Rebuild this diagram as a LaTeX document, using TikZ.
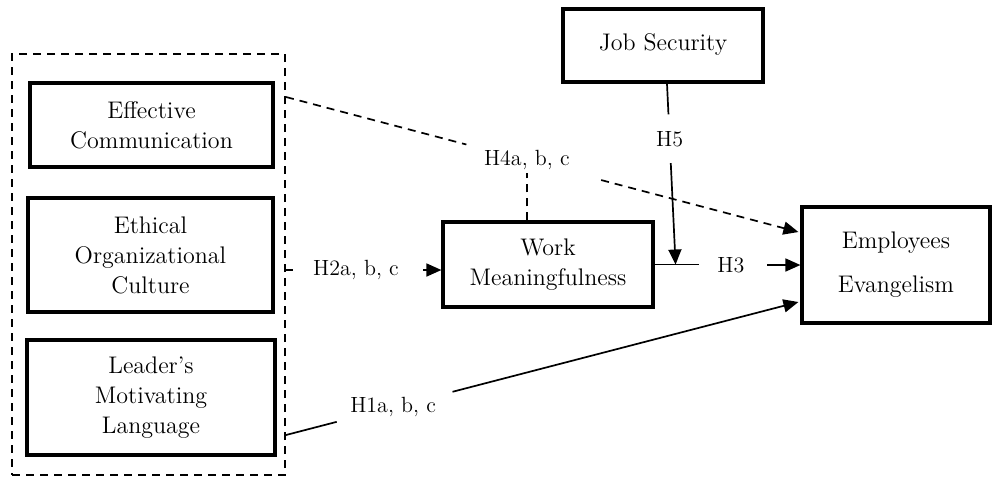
\documentclass[tikz,border=0pt]{standalone}
\usetikzlibrary{arrows.meta,calc}
\begin{document}
\begin{tikzpicture}[x=0.5pt,y=-0.5pt,
  box/.style={draw,line width=1.6pt,align=center,font=\fontsize{12}{15}\selectfont,inner sep=0pt},
  grpbox/.style={draw,line width=1pt,dash pattern=on 4pt off 3pt},
  conn/.style={line width=0.85pt},
  dconn/.style={line width=0.85pt,dash pattern=on 4pt off 3pt},
  arr/.style={-{Triangle[length=7.5pt,width=6.5pt]}},
  lab/.style={font=\fontsize{11}{13}\selectfont,inner sep=1pt}]
\useasboundingbox (0,0) rectangle (992,479);
% boxes
\node[grpbox,minimum width=136.5pt,minimum height=210.5pt] (grp) at (148.5,264.5) {};
\node[box,minimum width=121.5pt,minimum height=42pt] (ec) at (151.5,125) {Effective\\Communication};
\node[box,minimum width=122.5pt,minimum height=57pt] (eoc) at (150.5,255) {Ethical\\Organizational\\Culture};
\node[box,minimum width=124pt,minimum height=57.5pt] (lml) at (151,397.5) {Leader’s\\Motivating\\Language};
\node[box,minimum width=100pt,minimum height=36.5pt] (js) at (663,45.5) {\raisebox{3pt}{Job Security}};
\node[box,minimum width=105pt,minimum height=42.5pt] (wm) at (548,264.5) {Work\\Meaningfulness};
\node[box,minimum width=94pt,minimum height=58pt] (ee) at (896,265) {Employees\\[7pt]Evangelism};
% anchor coordinates
\coordinate (g4) at ($(grp.east)+(0,-167.5)$);
\coordinate (g2) at ($(grp.east)+(0,5.5)$);
\coordinate (g1) at ($(grp.east)+(0,170.5)$);
\coordinate (e4) at ($(ee.west)+(-2,-33)$);
\coordinate (e1) at ($(ee.west)+(-2,37)$);
\coordinate (s5) at ($(js.south)+(4,0)$);
\coordinate (j) at ($(wm.east)+(21,0)$);
% H4
\draw[dconn] (g4) -- ($(g4)!0.352!(e4)$);
\draw[dconn,arr] ($(g4)!0.615!(e4)$) -- (e4);
\node[lab] (h4) at ($(g4)!0.47!(e4)$) {H4a, b, c};
\draw[dconn] (wm.north -| h4.south) -- (h4.south);
% H2
\draw[conn] (g2) -- ++(7,0);
\node[lab] (h2) at ($(g2)+(70,0)$) {H2a, b, c};
\draw[conn,arr] ($(wm.west |- g2)+(-18,0)$) -- (wm.west |- g2);
% H3
\draw[conn] (wm.east) -- ($(wm.east)+(44,0)$);
\node[lab] (h3) at ($(wm.east)!0.523!(ee.west)$) {H3};
\draw[conn,arr] ($(ee.west)+(-33,0)$) -- (ee.west);
% H5
\draw[conn] (s5) -- ($(s5)!0.17!(j)$);
\node[lab] (h5) at ($(s5)!0.31!(j)$) {H5};
\draw[conn,arr] ($(s5)!0.44!(j)$) -- (j);
% H1
\draw[conn] (g1) -- ($(g1)!0.099!(e1)$);
\node[lab] (h1) at ($(g1)!0.209!(e1)$) {H1a, b, c};
\draw[conn,arr] ($(g1)!0.325!(e1)$) -- (e1);
\end{tikzpicture}
\end{document}
